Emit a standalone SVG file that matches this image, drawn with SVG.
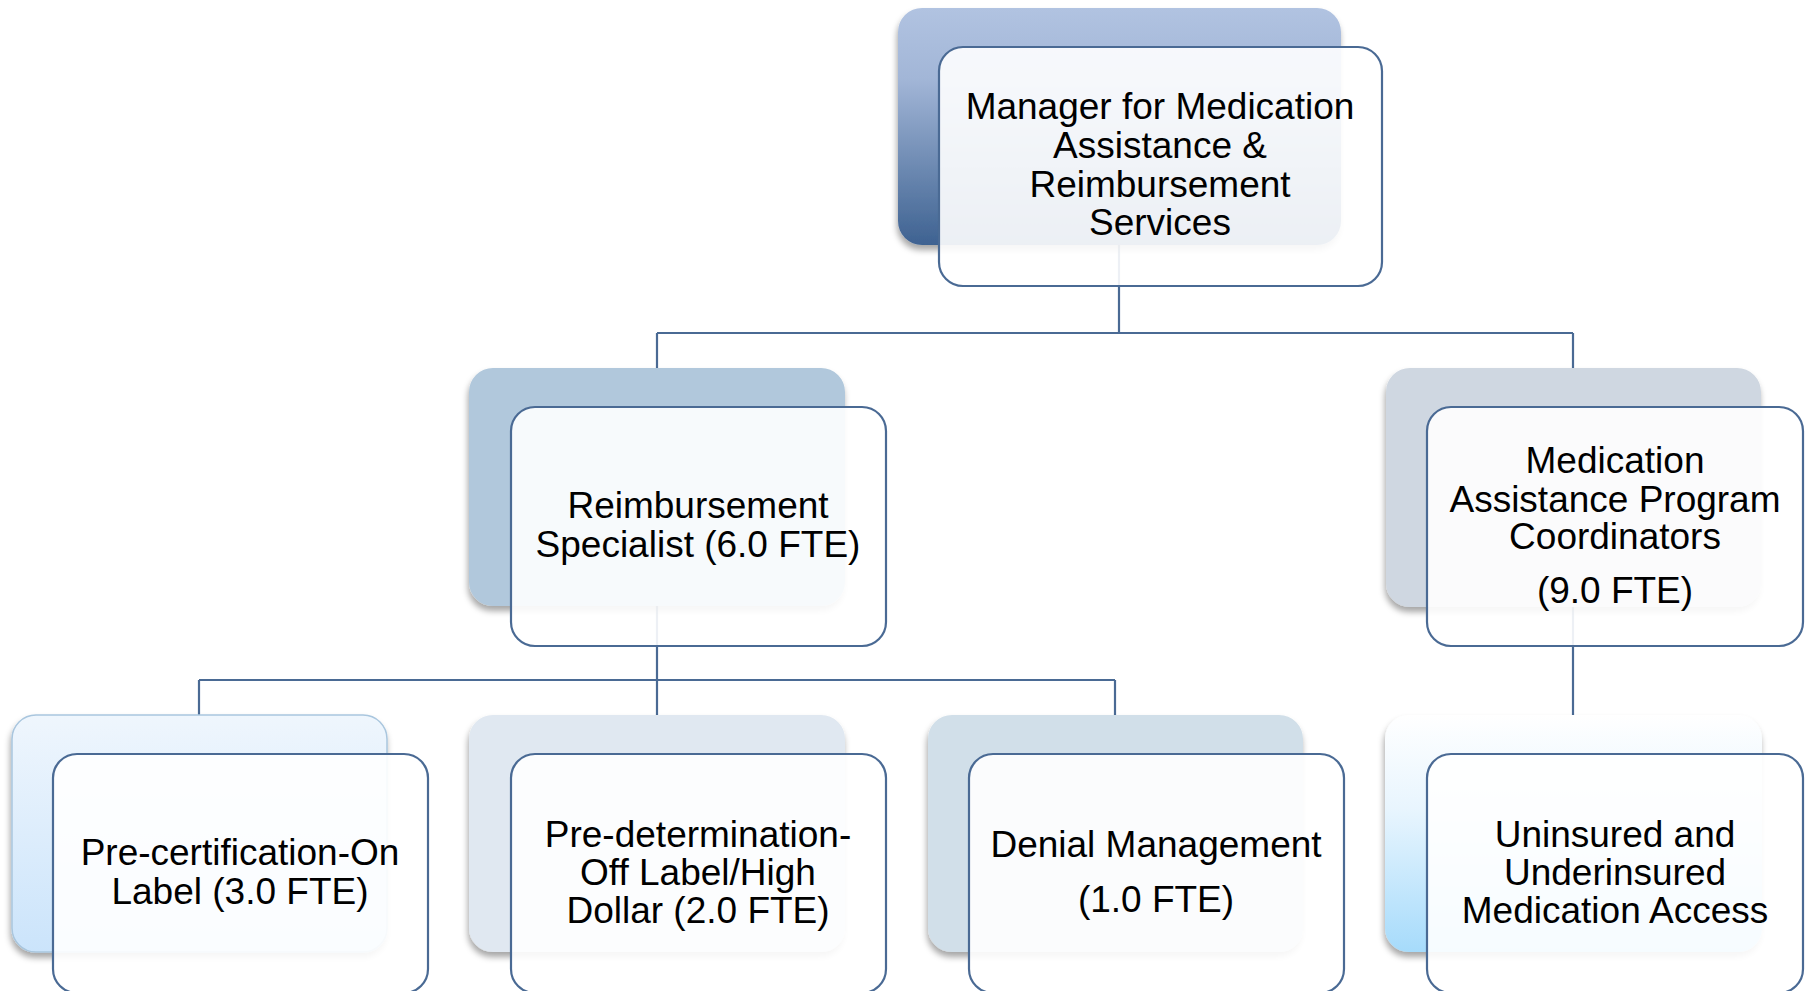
<svg xmlns="http://www.w3.org/2000/svg" width="1813" height="991" viewBox="0 0 1813 991">
<style>
.conn{fill:none;stroke:#4a6a94;stroke-width:2.2}
.front{fill:#ffffff;fill-opacity:0.9;stroke:#4a6a94;stroke-width:2.2}
.back{filter:url(#sh)}
text{font-family:"Liberation Sans",Arial,sans-serif;font-size:37px;fill:#000;text-anchor:middle}
</style>
<defs>
<filter id="sh" x="-10%" y="-10%" width="120%" height="125%">
<feDropShadow dx="-1" dy="5" stdDeviation="3" flood-color="#000" flood-opacity="0.35"/>
</filter>
<linearGradient id="gTop" x1="0" y1="0" x2="0" y2="1">
<stop offset="0" stop-color="#b1c3e1"/>
<stop offset="0.3" stop-color="#a2b6d7"/>
<stop offset="1" stop-color="#3e6291"/>
</linearGradient>
<linearGradient id="gPre" x1="0" y1="0" x2="0" y2="1">
<stop offset="0" stop-color="#eff6fd"/>
<stop offset="1" stop-color="#cbe4fb"/>
</linearGradient>
<linearGradient id="gUn" x1="0" y1="0" x2="0" y2="1">
<stop offset="0" stop-color="#ffffff"/>
<stop offset="0.4" stop-color="#e8f5fe"/>
<stop offset="1" stop-color="#a6dbfb"/>
</linearGradient>
</defs>
<g id="connectors">
<path class="conn" d="M1119 245 V333 M657 333 H1573 M657 333 V368 M1573 333 V368"/>
<path class="conn" d="M657 606 V680 M199 680 H1115 M199 680 V715 M657 680 V715 M1115 680 V715"/>
<path class="conn" d="M1573 607 V715"/>
</g>
<g id="n-manager">
<rect class="back" x="898" y="8" width="443" height="237" rx="24" fill="url(#gTop)"/>
<rect class="front" x="939" y="47" width="443" height="239" rx="24"/>
<text x="1160" y="119">Manager for Medication</text>
<text x="1160" y="158">Assistance &amp;</text>
<text x="1160" y="197">Reimbursement</text>
<text x="1160" y="235">Services</text>
</g>
<g id="n-reimb">
<rect class="back" x="469" y="368" width="376" height="238" rx="24" fill="#b1c8dc"/>
<rect class="front" x="511" y="407" width="375" height="239" rx="24"/>
<text x="698" y="518">Reimbursement</text>
<text x="698" y="557">Specialist (6.0 FTE)</text>
</g>
<g id="n-map">
<rect class="back" x="1386" y="368" width="375" height="239" rx="24" fill="#cfd7e1"/>
<rect class="front" x="1427" y="407" width="376" height="239" rx="24"/>
<text x="1615" y="473">Medication</text>
<text x="1615" y="512">Assistance Program</text>
<text x="1615" y="549">Coordinators</text>
<text x="1615" y="603">(9.0 FTE)</text>
</g>
<g id="n-precert">
<rect class="back" x="12" y="715" width="375" height="237" rx="24" fill="url(#gPre)" stroke="#a9c6de" stroke-width="1.5"/>
<rect class="front" x="53" y="754" width="375" height="239" rx="24"/>
<text x="240" y="865">Pre-certification-On</text>
<text x="240" y="904">Label (3.0 FTE)</text>
</g>
<g id="n-predet">
<rect class="back" x="469" y="715" width="376" height="237" rx="24" fill="#e0e8f1"/>
<rect class="front" x="511" y="754" width="375" height="239" rx="24"/>
<text x="698" y="847">Pre-determination-</text>
<text x="698" y="885">Off Label/High</text>
<text x="698" y="923">Dollar (2.0 FTE)</text>
</g>
<g id="n-denial">
<rect class="back" x="928" y="715" width="375" height="237" rx="24" fill="#d1dfe9"/>
<rect class="front" x="969" y="754" width="375" height="239" rx="24"/>
<text x="1156" y="857">Denial Management</text>
<text x="1156" y="912">(1.0 FTE)</text>
</g>
<g id="n-uninsured">
<rect class="back" x="1385" y="715" width="377" height="237" rx="24" fill="url(#gUn)"/>
<rect class="front" x="1427" y="754" width="376" height="239" rx="24"/>
<text x="1615" y="847">Uninsured and</text>
<text x="1615" y="885">Underinsured</text>
<text x="1615" y="923">Medication Access</text>
</g>
</svg>
